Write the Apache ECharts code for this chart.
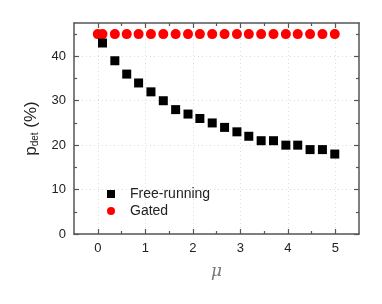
<!DOCTYPE html>
<html>
<head>
<meta charset="utf-8">
<script src="https://cdn.jsdelivr.net/npm/echarts@6/dist/echarts.min.js"></script>
<style>html,body{margin:0;padding:0;background:#fff}#c{width:382px;height:304px}</style>
</head>
<body>
<div id="c"></div>
<script>
// Data
var muFree = [0.1, 0.36, 0.61, 0.86, 1.12, 1.38, 1.64, 1.9, 2.15, 2.41, 2.67, 2.93, 3.18, 3.44, 3.7, 3.96, 4.21, 4.47, 4.73, 4.99];
var pFree  = [43, 39, 36, 34, 32, 30, 28, 27, 26, 25, 24, 23, 22, 21, 21, 20, 20, 19, 19, 18];
var muGated = [0, 0.1, 0.36, 0.61, 0.86, 1.12, 1.38, 1.64, 1.9, 2.15, 2.41, 2.67, 2.93, 3.18, 3.44, 3.7, 3.96, 4.21, 4.47, 4.73, 4.99];
var pGated  = [45, 45, 45, 45, 45, 45, 45, 45, 45, 45, 45, 45, 45, 45, 45, 45, 45, 45, 45, 45, 45];
var xTicks = [0, 1, 2, 3, 4, 5];
var xMinorTicks = [0.5, 1.5, 2.5, 3.5, 4.5];
var yTicks = [0, 10, 20, 30, 40];
var yMinorTicks = [5, 15, 25, 35, 45];
var seriesNames = ['Free-running', 'Gated'];

function zip(a, b) { return a.map(function (v, i) { return [v, b[i]]; }); }

var AX = '#555';
var font = 'Arial, "Liberation Sans", sans-serif';
var xMin = -0.5, xMax = 5.5, yMin = 0, yMax = 47.5;

function mk(pos, minV, maxV, showLabel, ticks, len, showLine, extra) {
  var o = {
    type: 'value', position: pos, min: minV, max: maxV,
    axisLine: { show: showLine, onZero: false, lineStyle: { color: AX, width: 1.5 } },
    axisTick: { show: true, inside: true, length: len, customValues: ticks, lineStyle: { color: AX, width: 1.2 } },
    axisLabel: { show: showLabel, customValues: ticks, color: '#222', fontSize: 13, fontFamily: font, margin: 8 },
    splitLine: { show: false }
  };
  for (var k in extra) o[k] = extra[k];
  return o;
}

var chart = echarts.init(document.getElementById('c'), null, { renderer: 'canvas' });
chart.setOption({
  animation: false,
  backgroundColor: '#fff',
  grid: { left: 74, right: 23, top: 23, bottom: 70, containLabel: false },
  xAxis: [
    mk('bottom', xMin, xMax, true, xTicks, 5, true, {
      name: 'μ', nameLocation: 'middle', nameGap: 29,
      nameTextStyle: { fontSize: 17, fontStyle: 'italic', color: '#777', fontFamily: '"DejaVu Serif", serif' },
      splitLine: { show: true, lineStyle: { color: '#ddd', type: [1, 3], width: 1 } }
    }),
    mk('bottom', xMin, xMax, false, xMinorTicks, 3, false, {}),
    mk('top', xMin, xMax, false, xTicks, 5, true, {}),
    mk('top', xMin, xMax, false, xMinorTicks, 3, false, {})
  ],
  yAxis: [
    mk('left', yMin, yMax, true, yTicks, 5, true, {
      name: '{p|p}{s|det}{p| (%)}', nameLocation: 'middle', nameGap: 30, nameRotate: 90,
      nameTextStyle: { rich: {
        p: { fontSize: 17, color: '#222', fontFamily: font },
        s: { fontSize: 10, color: '#222', fontFamily: font, verticalAlign: 'bottom', padding: [9, 0, 0, 0] }
      } },
      splitLine: { show: true, lineStyle: { color: '#ddd', type: [1, 3], width: 1 } }
    }),
    mk('left', yMin, yMax, false, yMinorTicks, 3, false, {}),
    mk('right', yMin, yMax, false, yTicks, 5, true, {}),
    mk('right', yMin, yMax, false, yMinorTicks, 3, false, {})
  ],
  legend: {
    orient: 'vertical', left: 102, top: 182, itemGap: 3,
    itemWidth: 8, itemHeight: 8,
    textStyle: { fontSize: 14, color: '#222', fontFamily: font, padding: [0, 0, 0, 10] },
    data: [
      { name: seriesNames[0], icon: 'rect', itemStyle: { opacity: 1 } },
      { name: seriesNames[1], icon: 'circle', itemStyle: { opacity: 1 } }
    ]
  },
  series: [
    { name: seriesNames[1], type: 'scatter', xAxisIndex: 0, yAxisIndex: 0, symbol: 'circle', symbolSize: 10,
      itemStyle: { color: '#ff0000', opacity: 1 }, data: zip(muGated, pGated), z: 2 },
    { name: seriesNames[0], type: 'scatter', xAxisIndex: 0, yAxisIndex: 0, symbol: 'rect', symbolSize: 9,
      itemStyle: { color: '#000', opacity: 1 }, data: zip(muFree, pFree), z: 3 }
  ]
});
</script>
</body>
</html>
